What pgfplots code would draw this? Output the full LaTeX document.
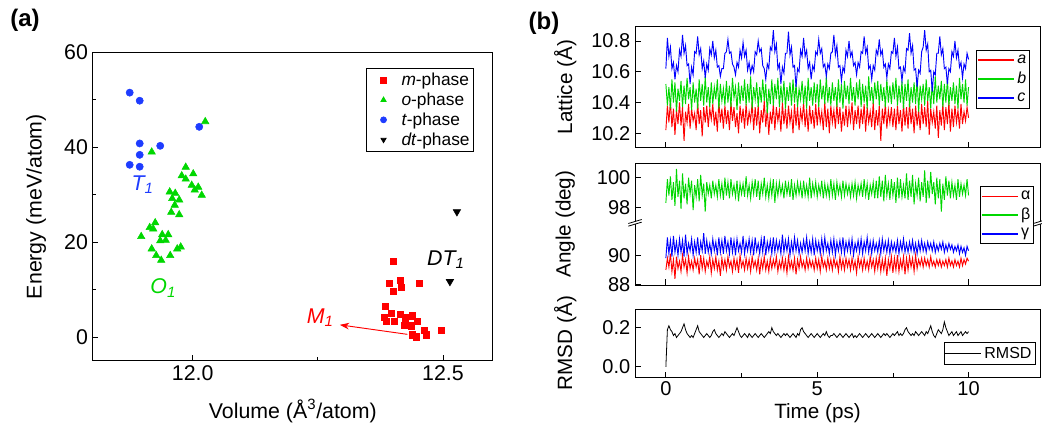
\documentclass[border=0pt]{standalone}
\usepackage{fontspec}
\setmainfont{Liberation Sans}
\usepackage{pgfplots}
\usepackage{pgfplotstable}
\pgfplotsset{compat=1.18}
\usetikzlibrary{arrows.meta}

\definecolor{cR}{RGB}{255,0,0}
\definecolor{cG}{RGB}{0,215,0}
\definecolor{cB}{RGB}{0,0,255}
\definecolor{cBd}{RGB}{30,60,255}

% MD trace: time, lattice a b c, angles alpha beta gamma, RMSD
\pgfplotstableread{
t a b c al be ga r
0.00 10.22 10.52 10.62 89.0 98.3 89.8 0.00
0.05 10.38 10.38 10.82 89.8 99.9 91.2 0.19
0.10 10.27 10.50 10.70 89.2 98.8 90.1 0.21
0.15 10.41 10.36 10.76 90.1 100.1 91.0 0.19
0.20 10.24 10.55 10.62 88.9 98.5 89.9 0.18
0.25 10.36 10.40 10.66 89.7 99.7 91.3 0.16
0.30 10.19 10.53 10.55 88.4 98.1 90.2 0.17
0.35 10.35 10.34 10.64 89.9 100.6 90.9 0.15
0.40 10.26 10.49 10.60 89.1 98.7 90.0 0.16
0.45 10.40 10.41 10.74 89.6 99.8 91.1 0.17
0.50 10.25 10.54 10.70 88.9 97.9 90.2 0.18
0.55 10.37 10.37 10.84 90.0 100.3 91.0 0.20
0.60 10.15 10.51 10.72 89.2 98.6 89.9 0.22
0.65 10.34 10.39 10.77 89.7 99.6 91.4 0.19
0.70 10.27 10.56 10.64 88.8 98.2 90.1 0.17
0.75 10.39 10.42 10.65 89.9 100.0 90.8 0.16
0.80 10.23 10.50 10.52 89.1 98.9 90.3 0.15
0.85 10.36 10.35 10.63 89.6 99.8 91.1 0.16
0.90 10.28 10.53 10.58 89.0 97.8 90.0 0.15
0.95 10.33 10.40 10.73 89.8 99.5 90.9 0.17
1.00 10.22 10.49 10.72 89.2 98.7 90.2 0.19
1.05 10.40 10.36 10.83 89.7 99.9 91.2 0.21
1.10 10.26 10.55 10.71 88.7 98.4 90.0 0.18
1.15 10.35 10.41 10.75 90.0 100.2 90.9 0.17
1.20 10.18 10.52 10.62 89.1 98.8 90.3 0.16
1.25 10.37 10.38 10.67 89.8 99.6 91.5 0.15
1.30 10.27 10.57 10.56 88.9 97.7 90.1 0.16
1.35 10.38 10.40 10.65 89.6 99.7 91.0 0.17
1.40 10.24 10.50 10.61 89.2 98.9 90.2 0.16
1.45 10.36 10.37 10.75 89.9 99.5 90.8 0.15
1.50 10.29 10.53 10.71 88.8 98.6 90.1 0.16
1.55 10.39 10.39 10.80 89.7 99.8 91.1 0.18
1.60 10.25 10.50 10.69 89.1 98.9 90.3 0.19
1.65 10.34 10.42 10.74 89.9 99.5 90.9 0.17
1.70 10.21 10.55 10.63 89.0 98.7 90.0 0.16
1.75 10.41 10.36 10.64 89.6 99.9 91.2 0.15
1.80 10.27 10.52 10.57 88.6 98.8 90.2 0.16
1.85 10.36 10.41 10.62 89.8 99.6 91.0 0.17
1.90 10.23 10.49 10.62 89.1 98.5 90.1 0.16
1.95 10.38 10.38 10.72 89.7 100.0 91.3 0.18
2.00 10.26 10.54 10.73 89.0 98.8 90.3 0.17
2.05 10.35 10.40 10.81 89.9 99.7 90.9 0.16
2.10 10.22 10.51 10.72 89.2 98.6 90.1 0.15
2.15 10.40 10.37 10.73 89.6 99.9 91.2 0.16
2.20 10.28 10.56 10.65 88.9 98.9 90.2 0.17
2.25 10.37 10.43 10.63 89.8 99.5 91.0 0.16
2.30 10.24 10.50 10.58 89.1 98.7 90.0 0.18
2.35 10.33 10.35 10.66 89.7 99.8 91.1 0.20
2.40 10.20 10.53 10.63 88.8 98.4 90.3 0.18
2.45 10.38 10.39 10.74 90.0 99.6 90.8 0.16
2.50 10.27 10.51 10.69 89.2 98.9 90.2 0.15
2.55 10.36 10.41 10.79 89.6 99.6 91.3 0.16
2.60 10.23 10.55 10.70 89.0 98.7 90.1 0.17
2.65 10.39 10.38 10.74 89.8 100.1 90.9 0.16
2.70 10.25 10.52 10.61 89.1 98.8 90.3 0.15
2.75 10.34 10.40 10.66 89.7 99.5 91.1 0.17
2.80 10.28 10.57 10.59 88.9 98.6 90.2 0.16
2.85 10.40 10.36 10.64 89.9 99.7 91.0 0.15
2.90 10.22 10.50 10.60 89.2 98.9 90.0 0.16
2.95 10.37 10.42 10.73 89.6 99.9 91.2 0.17
3.00 10.25 10.53 10.71 89.0 98.7 90.3 0.16
3.05 10.38 10.37 10.80 89.8 99.8 90.8 0.15
3.10 10.20 10.50 10.73 88.7 98.5 90.1 0.16
3.15 10.35 10.40 10.75 89.7 99.6 91.1 0.17
3.20 10.27 10.55 10.64 89.1 98.9 90.2 0.16
3.25 10.41 10.41 10.62 89.9 100.0 91.3 0.15
3.30 10.24 10.52 10.55 89.0 98.7 90.0 0.16
3.35 10.36 10.33 10.65 89.6 99.5 90.9 0.17
3.40 10.19 10.49 10.62 88.9 98.6 90.3 0.18
3.45 10.34 10.39 10.76 89.8 99.7 91.0 0.17
3.50 10.26 10.55 10.74 89.1 98.8 90.1 0.20
3.55 10.39 10.38 10.87 89.7 99.9 91.2 0.18
3.60 10.22 10.52 10.73 89.2 98.3 90.2 0.17
3.65 10.37 10.42 10.78 89.9 99.6 91.0 0.16
3.70 10.28 10.56 10.62 88.9 98.8 90.3 0.17
3.75 10.35 10.37 10.65 89.6 99.7 90.9 0.16
3.80 10.21 10.51 10.52 89.1 98.9 90.1 0.15
3.85 10.40 10.40 10.63 89.8 99.5 91.4 0.16
3.90 10.26 10.54 10.59 89.0 98.6 90.2 0.17
3.95 10.36 10.36 10.72 89.7 99.8 91.0 0.16
4.00 10.23 10.50 10.72 88.8 98.9 90.3 0.17
4.05 10.38 10.41 10.86 89.9 99.6 91.1 0.16
4.10 10.27 10.53 10.71 89.1 98.7 90.0 0.15
4.15 10.34 10.38 10.76 89.6 99.9 90.9 0.16
4.20 10.20 10.55 10.63 89.0 98.5 90.2 0.17
4.25 10.39 10.40 10.64 89.8 99.5 91.2 0.16
4.30 10.25 10.52 10.50 88.7 98.8 90.3 0.15
4.35 10.37 10.37 10.62 89.7 99.7 91.0 0.17
4.40 10.22 10.49 10.60 89.1 98.9 90.1 0.16
4.45 10.35 10.42 10.74 89.9 99.6 90.8 0.19
4.50 10.28 10.54 10.70 89.2 98.6 90.2 0.20
4.55 10.40 10.39 10.82 89.6 99.8 91.0 0.18
4.60 10.24 10.51 10.70 89.0 98.8 90.3 0.17
4.65 10.36 10.36 10.74 89.8 99.5 91.2 0.16
4.70 10.21 10.56 10.62 89.1 98.7 90.1 0.15
4.75 10.38 10.41 10.66 89.7 100.0 90.9 0.16
4.80 10.26 10.50 10.55 89.2 98.6 90.2 0.17
4.85 10.35 10.38 10.64 89.6 99.6 91.1 0.16
4.90 10.23 10.53 10.61 89.0 98.9 90.0 0.15
4.95 10.39 10.40 10.73 89.8 99.7 91.0 0.16
5.00 10.25 10.52 10.71 89.1 98.7 90.3 0.17
5.05 10.37 10.37 10.81 89.7 99.5 90.9 0.16
5.10 10.27 10.55 10.72 88.9 98.9 90.1 0.15
5.15 10.34 10.42 10.75 89.9 99.8 91.1 0.16
5.20 10.22 10.51 10.63 89.2 98.6 90.2 0.17
5.25 10.40 10.39 10.65 89.6 99.6 91.2 0.16
5.30 10.24 10.57 10.57 89.0 98.8 90.3 0.18
5.35 10.36 10.40 10.65 89.8 99.5 90.8 0.16
5.40 10.20 10.50 10.62 89.1 98.7 90.1 0.15
5.45 10.38 10.38 10.72 89.7 99.9 91.0 0.16
5.50 10.27 10.53 10.73 89.0 98.8 90.2 0.16
5.55 10.35 10.41 10.84 89.8 99.6 91.1 0.17
5.60 10.23 10.50 10.71 89.2 98.5 90.0 0.16
5.65 10.39 10.37 10.77 89.6 99.7 90.9 0.15
5.70 10.26 10.55 10.63 88.9 98.9 90.3 0.16
5.75 10.37 10.40 10.64 89.9 99.5 91.0 0.17
5.80 10.21 10.52 10.54 89.1 98.7 90.2 0.16
5.85 10.34 10.36 10.63 89.7 99.8 91.2 0.15
5.90 10.25 10.54 10.60 89.0 98.8 90.1 0.16
5.95 10.38 10.42 10.74 89.8 99.6 90.9 0.17
6.00 10.24 10.51 10.70 89.2 98.9 90.3 0.16
6.05 10.36 10.39 10.80 89.7 99.5 91.0 0.15
6.10 10.28 10.56 10.70 89.0 98.7 90.2 0.16
6.15 10.40 10.41 10.73 89.8 99.6 91.1 0.17
6.20 10.22 10.50 10.64 89.1 98.8 90.0 0.15
6.25 10.35 10.38 10.66 89.6 99.7 90.8 0.16
6.30 10.26 10.53 10.58 88.8 98.6 90.3 0.15
6.35 10.38 10.42 10.66 89.9 99.5 91.0 0.16
6.40 10.23 10.55 10.63 89.2 98.9 90.2 0.17
6.45 10.36 10.37 10.73 89.7 99.6 91.1 0.16
6.50 10.26 10.52 10.72 89.0 98.7 90.1 0.15
6.55 10.39 10.40 10.83 89.8 99.9 90.9 0.16
6.60 10.21 10.51 10.72 89.1 98.8 90.3 0.17
6.65 10.37 10.36 10.76 89.6 99.6 91.2 0.16
6.70 10.27 10.57 10.62 89.0 98.5 90.2 0.15
6.75 10.34 10.41 10.64 89.9 99.5 90.9 0.16
6.80 10.24 10.50 10.55 89.2 98.9 90.1 0.17
6.85 10.40 10.39 10.64 89.7 99.7 91.0 0.16
6.90 10.22 10.53 10.61 88.9 98.6 90.3 0.15
6.95 10.35 10.42 10.74 89.8 99.8 90.8 0.16
7.00 10.25 10.54 10.71 89.1 98.6 90.2 0.17
7.05 10.38 10.38 10.81 89.9 100.1 91.0 0.16
7.10 10.15 10.52 10.71 88.9 98.7 90.1 0.15
7.15 10.36 10.41 10.74 89.7 99.8 91.1 0.16
7.20 10.26 10.50 10.63 89.0 98.4 90.3 0.17
7.25 10.39 10.37 10.65 89.8 100.2 90.9 0.16
7.30 10.23 10.55 10.56 88.6 98.8 90.2 0.17
7.35 10.35 10.40 10.65 89.7 99.6 91.0 0.16
7.40 10.27 10.51 10.62 89.1 98.5 90.1 0.15
7.45 10.37 10.39 10.73 89.9 99.9 90.9 0.16
7.50 10.24 10.53 10.72 88.8 98.8 90.3 0.17
7.55 10.36 10.42 10.82 89.8 99.7 90.8 0.16
7.60 10.22 10.56 10.70 89.0 98.3 90.2 0.17
7.65 10.38 10.38 10.76 90.0 100.0 91.0 0.18
7.70 10.26 10.51 10.62 88.9 98.6 90.1 0.16
7.75 10.35 10.40 10.63 89.7 99.9 90.9 0.17
7.80 10.21 10.54 10.54 89.1 98.7 90.3 0.16
7.85 10.39 10.36 10.63 89.9 99.5 91.1 0.17
7.90 10.25 10.52 10.60 88.7 98.6 90.2 0.19
7.95 10.37 10.41 10.75 89.8 100.3 90.8 0.20
8.00 10.23 10.55 10.74 89.0 98.5 90.2 0.18
8.05 10.40 10.37 10.85 89.9 99.8 90.9 0.17
8.10 10.26 10.50 10.72 89.2 98.7 90.3 0.16
8.15 10.36 10.40 10.77 89.8 100.2 91.0 0.17
8.20 10.20 10.53 10.61 88.9 98.2 90.2 0.16
8.25 10.38 10.39 10.62 90.0 99.6 90.8 0.18
8.30 10.25 10.56 10.50 89.1 98.8 90.1 0.17
8.35 10.35 10.34 10.61 89.7 100.0 90.9 0.16
8.40 10.22 10.51 10.59 89.3 98.4 90.3 0.17
8.45 10.39 10.42 10.73 89.8 99.7 91.0 0.18
8.50 10.26 10.52 10.76 89.2 98.7 90.3 0.17
8.55 10.37 10.38 10.87 89.8 100.5 90.8 0.16
8.60 10.24 10.55 10.74 89.3 98.3 90.2 0.18
8.65 10.41 10.41 10.78 89.7 99.8 90.9 0.17
8.70 10.19 10.50 10.60 89.2 98.6 90.4 0.19
8.75 10.36 10.36 10.61 89.9 100.4 90.8 0.21
8.80 10.27 10.53 10.47 89.3 98.9 90.3 0.18
8.85 10.34 10.39 10.60 89.6 99.7 90.9 0.16
8.90 10.23 10.57 10.58 89.2 98.2 90.2 0.15
8.95 10.38 10.40 10.72 89.7 100.0 90.7 0.17
9.00 10.17 10.51 10.72 89.3 98.6 90.3 0.19
9.05 10.35 10.42 10.83 89.7 99.9 90.8 0.18
9.10 10.25 10.54 10.71 89.2 97.7 90.4 0.17
9.15 10.39 10.37 10.75 89.6 99.6 90.9 0.19
9.20 10.22 10.52 10.62 89.3 98.5 90.2 0.23
9.25 10.37 10.40 10.63 89.7 100.1 90.7 0.20
9.30 10.26 10.55 10.52 89.2 98.8 90.3 0.18
9.35 10.40 10.38 10.62 89.8 99.8 90.8 0.16
9.40 10.21 10.50 10.60 89.3 98.6 90.4 0.17
9.45 10.36 10.41 10.73 89.6 99.7 90.7 0.18
9.50 10.24 10.53 10.70 89.2 98.8 90.2 0.16
9.55 10.38 10.39 10.80 89.7 99.5 90.6 0.17
9.60 10.27 10.51 10.69 89.3 98.5 90.3 0.18
9.65 10.35 10.36 10.74 89.6 99.9 90.7 0.16
9.70 10.23 10.56 10.63 89.2 98.7 90.1 0.17
9.75 10.39 10.42 10.66 89.8 99.6 90.6 0.18
9.80 10.26 10.52 10.56 89.3 98.9 90.2 0.16
9.85 10.34 10.40 10.65 89.7 99.5 90.5 0.17
9.90 10.28 10.55 10.62 89.4 98.8 90.0 0.18
9.95 10.37 10.38 10.72 89.8 99.9 90.6 0.17
10.00 10.30 10.50 10.68 89.6 98.8 90.3 0.18
}\md

\pgfplotsset{
  base/.style={
    scale only axis, anchor=north west,
    tick align=inside, xtick pos=left, ytick pos=left,
    axis line style={line width=0.7pt},
    every tick/.style={black, line width=0.6pt},
    /pgf/number format/assume math mode=true,
  },
  bpanel/.style={
    base, width=303.75pt, xmin=-1.02, xmax=12.36,
    xtick={0,5,10}, minor xtick={2.5,7.5},
    tick label style={font=\fontsize{15}{18}\selectfont},
    label style={font=\fontsize{15.5}{18}\selectfont},
    ylabel style={at={(axis description cs:-0.172,0.5)}, anchor=center},
    legend cell align=left,
    legend style={font=\fontsize{12}{14}\selectfont,
      row sep=1pt, inner xsep=0.5pt, inner ysep=1.5pt},
  },
}

\begin{document}
\begin{tikzpicture}
\useasboundingbox (0pt,0pt) rectangle (781.5pt,-322.5pt);

% ---------------- (a) energy vs volume
\begin{axis}[base, at={(69.5pt,-39.2pt)}, width=300.2pt, height=231.5pt,
  xmin=11.8, xmax=12.6, ymin=-5, ymax=60,
  xtick={12.0,12.5}, xticklabels={12.0,12.5}, minor xtick={12.25},
  ytick={0,20,40,60}, yticklabels={0,20,40,60}, minor ytick={10,30,50},
  tick label style={font=\fontsize{16}{19}\selectfont},
  label style={font=\fontsize{16}{19}\selectfont},
  xlabel={Volume (Å\textsuperscript{3}/atom)},
  ylabel={Energy (meV/atom)},
  xlabel style={at={(axis description cs:0.5,-0.162)}, anchor=center},
  ylabel style={at={(axis description cs:-0.1416,0.5)}, anchor=center},
  legend cell align=left,
  legend image code/.code={\path[draw=none, fill=none] (0pt,-3pt) rectangle (24pt,3pt);
    \draw[#1] plot coordinates {(12pt,0pt)};},
  legend image post style={mark size=2.2pt},
  legend style={at={(0.951,0.95)}, anchor=north east, line width=0.6pt,
    font=\fontsize{13}{15}\selectfont, row sep=1pt, inner xsep=1pt, nodes={inner sep=1.5pt}},
  clip=false]
\addplot[only marks, mark=square*, mark size=2.3pt, draw=cR, fill=cR] coordinates {
(12.400,16.0) (12.393,11.4) (12.414,12.0) (12.416,10.6) (12.401,9.7) (12.452,11.3)
(12.385,6.5) (12.397,5.0) (12.414,4.8) (12.382,4.2) (12.387,3.4) (12.402,3.4)
(12.425,4.1) (12.439,4.5) (12.423,2.5) (12.436,2.4) (12.449,3.4) (12.463,1.4)
(12.467,0.5) (12.439,0.5) (12.447,0.1) (12.496,1.5)};
\addlegendentry{\textit{m}-phase}
\addplot[only marks, mark=triangle*, mark size=3.2pt, draw=cG, fill=cG] coordinates {
(12.025,45.4) (11.918,39.0) (11.986,35.8) (12.001,34.4) (11.978,34.0) (11.986,33.3)
(11.998,32.0) (12.011,31.6) (12.004,31.0) (12.018,29.9) (11.954,30.6) (11.965,30.3)
(11.959,29.2) (11.973,28.9) (11.964,27.8) (11.957,26.3) (11.973,25.8) (11.925,24.1)
(11.914,23.1) (11.921,22.8) (11.897,21.2) (11.939,21.6) (11.951,21.6) (11.935,20.3)
(11.946,20.4) (11.918,18.6) (11.969,18.6) (11.976,19.0) (11.927,17.2) (11.937,16.2)
(11.955,17.2)};
\addlegendentry{\textit{o}-phase}
\addplot[only marks, mark=*, mark size=2.7pt, draw=cBd, fill=cBd] coordinates {
(11.874,51.5) (11.894,49.8) (12.013,44.3) (11.894,40.8) (11.935,40.3)
(11.894,38.4) (11.874,36.3) (11.894,35.9)};
\addlegendentry{\textit{t}-phase}
\addplot[only marks, mark=triangle*, mark size=3.2pt, mark options={rotate=180}, draw=black, fill=black] coordinates {
(12.514,11.7) (12.528,26.4)};
\addlegendentry{\textit{dt}-phase}

\node[cBd, font=\fontsize{16}{19}\selectfont\itshape] at (axis cs:11.900,32.1) {T\textsubscript{1}};
\node[cG, font=\fontsize{16}{19}\selectfont\itshape] at (axis cs:11.941,10.3) {O\textsubscript{1}};
\node[cR, font=\fontsize{16}{19}\selectfont\itshape] at (axis cs:12.255,4.1) {M\textsubscript{1}};
\node[black, font=\fontsize{16}{19}\selectfont\itshape] at (axis cs:12.506,16.3) {DT\textsubscript{1}};
\draw[cR, line width=0.7pt, -{Stealth[length=7pt,width=5pt]}] (axis cs:12.429,0.6) -- (axis cs:12.294,2.6);
\end{axis}

% ---------------- (b) lattice constants
\begin{axis}[bpanel, at={(476.25pt,-20pt)}, height=90.75pt,
  ymin=10.106, ymax=10.893, xticklabels={},
  ytick={10.2,10.4,10.6,10.8}, yticklabels={10.2,10.4,10.6,10.8},
  ylabel={Lattice (Å)},
  legend image code/.code={\draw[#1] (0pt,0pt) -- (27pt,0pt);},
  legend style={at={(0.975,0.807)}, anchor=north east}]
\addlegendimage{draw=cR, line width=1.2pt}
\addlegendentry{\textit{a}}
\addlegendimage{draw=cG, line width=1.2pt}
\addlegendentry{\textit{b}}
\addlegendimage{draw=cB, line width=1.2pt}
\addlegendentry{\textit{c}}
\addplot[forget plot, draw=cR, line width=0.7pt] table[x=t, y=a] {\md};
\addplot[forget plot, draw=cG, line width=0.7pt] table[x=t, y=b] {\md};
\addplot[forget plot, draw=cB, line width=0.7pt] table[x=t, y=c] {\md};
\end{axis}

% ---------------- (b) angles, broken axis (beta shifted down by 4.75)
\begin{axis}[bpanel, at={(476.25pt,-122.25pt)}, height=91.5pt,
  ymin=87.98, ymax=96.25, xticklabels={},
  ytick={88,90,93.25,95.25}, yticklabels={88,90,98,100},
  ylabel={Angle (deg)}, clip=false,
  legend image code/.code={\draw[#1] (0pt,0pt) -- (27pt,0pt);},
  legend style={at={(0.985,0.811)}, anchor=north east}]
\addlegendimage{draw=cR, line width=1.2pt}
\addlegendentry{α}
\addlegendimage{draw=cG, line width=1.2pt}
\addlegendentry{β}
\addlegendimage{draw=cB, line width=1.2pt}
\addlegendentry{γ}
\addplot[forget plot, draw=cR, line width=0.7pt] table[x=t, y=al] {\md};
\addplot[forget plot, draw=cG, line width=0.7pt] table[x=t, y expr=\thisrow{be}-4.75] {\md};
\addplot[forget plot, draw=cB, line width=0.7pt] table[x=t, y=ga] {\md};
% break marks on the left and right axis lines
\fill[white] ([shift={(-5pt,-2pt)}]axis cs:-1.02,92.15) -- ([shift={(5pt,1pt)}]axis cs:-1.02,92.15)
  -- ([shift={(5pt,3pt)}]axis cs:-1.02,92.15) -- ([shift={(-5pt,0pt)}]axis cs:-1.02,92.15) -- cycle;
\draw[line width=0.6pt] ([shift={(-5pt,-2pt)}]axis cs:-1.02,92.15) -- ([shift={(5pt,1pt)}]axis cs:-1.02,92.15);
\draw[line width=0.6pt] ([shift={(-5pt,0pt)}]axis cs:-1.02,92.15) -- ([shift={(5pt,3pt)}]axis cs:-1.02,92.15);
\fill[white] ([shift={(-5pt,-2pt)}]axis cs:12.36,92.15) -- ([shift={(5pt,1pt)}]axis cs:12.36,92.15)
  -- ([shift={(5pt,3pt)}]axis cs:12.36,92.15) -- ([shift={(-5pt,0pt)}]axis cs:12.36,92.15) -- cycle;
\draw[line width=0.6pt] ([shift={(-5pt,-2pt)}]axis cs:12.36,92.15) -- ([shift={(5pt,1pt)}]axis cs:12.36,92.15);
\draw[line width=0.6pt] ([shift={(-5pt,0pt)}]axis cs:12.36,92.15) -- ([shift={(5pt,3pt)}]axis cs:12.36,92.15);
\end{axis}

% ---------------- (b) RMSD
\begin{axis}[bpanel, at={(476.25pt,-231.75pt)}, height=51.2pt,
  ymin=-0.054, ymax=0.296, xticklabels={0,5,10},
  ytick={0,0.2}, yticklabels={0.0,0.2},
  ylabel={RMSD (Å)}, xlabel={Time (ps)},
  xlabel style={at={(axis description cs:0.4506,-0.527)}, anchor=center},
  legend image code/.code={\draw[#1] (0pt,0pt) -- (27pt,0pt);},
  legend style={at={(0.988,0.18)}, anchor=south east}]
\addlegendimage{draw=black, line width=0.8pt}
\addlegendentry{RMSD}
\addplot[forget plot, draw=black, line width=0.6pt] table[x=t, y=r] {\md};
\end{axis}

\node[font=\fontsize{18}{21}\selectfont\bfseries] at (18.75pt,-15pt) {(a)};
\node[font=\fontsize{18}{21}\selectfont\bfseries] at (408pt,-17.25pt) {(b)};
\end{tikzpicture}
\end{document}
